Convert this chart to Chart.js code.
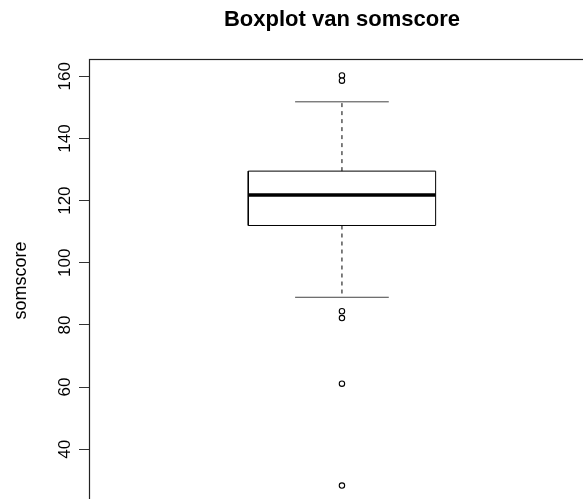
<!DOCTYPE html>
<html>
<head>
<meta charset="utf-8">
<title>Boxplot van somscore</title>
<script src="https://cdn.jsdelivr.net/npm/chart.js@4.4.0/dist/chart.umd.min.js"></script>
<style>
  html, body { margin: 0; padding: 0; background: #fff; overflow: hidden; }
  #wrap { width: 600px; height: 510px; }
  canvas { display: block; }
</style>
</head>
<body>
<div id="wrap"><canvas id="boxChart" width="600" height="510"></canvas></div>
<script>
// boxplot statistics
var categories = ['somscore'];
var whiskerLow = [88.9];
var q1 = [112.0];
var median = [121.8];
var q3 = [129.5];
var whiskerHigh = [151.8];
var outliers = [160.3, 158.6, 84.4, 82.2, 61.1, 28.3];
var yTicks = [40, 60, 80, 100, 120, 140, 160];

var BOX_HALF = 0.2;   // half box width, x units
var CAP_HALF = 0.1;   // half staple width

document.addEventListener('DOMContentLoaded', function() {
  var i = 0;
  var cx = i + 1;

  // y range like R: data range stretched 4% on both sides
  var allVals = outliers.concat([whiskerLow[i], whiskerHigh[i]]);
  var lo = Math.min.apply(null, allVals);
  var hi = Math.max.apply(null, allVals);
  var pad = (hi - lo) * 0.04;

  function seg(x1, y1, x2, y2) {
    return [{ x: x1, y: y1 }, { x: x2, y: y2 }];
  }

  var lineBase = { showLine: true, pointRadius: 0, fill: false, borderColor: '#000', borderWidth: 1 };

  var datasets = [
    Object.assign({}, lineBase, {
      label: 'median',
      data: seg(cx - BOX_HALF, median[i], cx + BOX_HALF, median[i]),
      borderWidth: 3.5
    }),
    Object.assign({}, lineBase, {
      label: 'box',
      data: [
        { x: cx - BOX_HALF, y: q1[i] }, { x: cx + BOX_HALF, y: q1[i] },
        { x: cx + BOX_HALF, y: q3[i] }, { x: cx - BOX_HALF, y: q3[i] },
        { x: cx - BOX_HALF, y: q1[i] }
      ],
      fill: true,
      backgroundColor: '#fff'
    }),
    Object.assign({}, lineBase, {
      label: 'upper whisker',
      data: seg(cx, q3[i], cx, whiskerHigh[i]),
      borderDash: [4, 4]
    }),
    Object.assign({}, lineBase, {
      label: 'lower whisker',
      data: seg(cx, q1[i], cx, whiskerLow[i]),
      borderDash: [4, 4]
    }),
    Object.assign({}, lineBase, {
      label: 'upper staple',
      data: seg(cx - CAP_HALF, whiskerHigh[i], cx + CAP_HALF, whiskerHigh[i]),
      borderColor: '#444'
    }),
    Object.assign({}, lineBase, {
      label: 'lower staple',
      data: seg(cx - CAP_HALF, whiskerLow[i], cx + CAP_HALF, whiskerLow[i]),
      borderColor: '#444'
    }),
    {
      label: 'outliers',
      data: outliers.map(function(v) { return { x: cx, y: v }; }),
      showLine: false,
      pointRadius: 2.7,
      pointBorderWidth: 1.1,
      pointBorderColor: '#000',
      pointBackgroundColor: '#fff'
    }
  ];

  // frame around the plot and y tick labels written along the axis
  var framePlugin = {
    id: 'frame',
    afterDraw: function(chart) {
      var ctx = chart.ctx;
      var a = chart.chartArea;
      var y = chart.scales.y;
      ctx.save();
      ctx.strokeStyle = '#222';
      ctx.lineWidth = 1.2;
      ctx.strokeRect(a.left + 0.5, a.top + 0.5, a.right - a.left, a.bottom - a.top);

      ctx.fillStyle = '#000';
      ctx.font = '17px "Liberation Sans", Arial, sans-serif';
      ctx.textAlign = 'center';
      ctx.textBaseline = 'alphabetic';
      yTicks.forEach(function(t) {
        var py = y.getPixelForValue(t);
        ctx.save();
        ctx.translate(70, py);
        ctx.rotate(-Math.PI / 2);
        ctx.fillText(String(t), 0, 0);
        ctx.restore();
      });
      ctx.restore();
    }
  };

  var ctx = document.getElementById('boxChart').getContext('2d');
  var boxChart = new Chart(ctx, {
    type: 'scatter',
    data: { datasets: datasets },
    plugins: [framePlugin],
    options: {
      responsive: false,
      animation: false,
      layout: { padding: { left: 0, top: 0, right: 5, bottom: 8 } },
      plugins: {
        legend: { display: false },
        tooltip: { enabled: false },
        title: {
          display: true,
          text: 'Boxplot van somscore',
          fullSize: false,
          color: '#000',
          font: { family: '"Liberation Sans", Arial, sans-serif', size: 22, weight: 'bold', lineHeight: 1.2 },
          padding: { top: 7, bottom: 25.6 }
        }
      },
      scales: {
        x: {
          type: 'linear',
          min: 0.46,
          max: 1.54,
          display: false
        },
        y: {
          type: 'linear',
          min: lo - pad,
          max: hi + pad,
          afterBuildTicks: function(scale) {
            scale.ticks = yTicks.map(function(v) { return { value: v }; });
          },
          afterFit: function(scale) {
            scale.width = 89;
          },
          border: { display: true, color: '#222', width: 1 },
          grid: {
            drawOnChartArea: false,
            drawTicks: true,
            tickLength: 10,
            color: '#333'
          },
          ticks: { display: false },
          title: {
            display: true,
            text: categories[i],
            color: '#000',
            font: { family: '"Liberation Sans", Arial, sans-serif', size: 18, lineHeight: 1.2 },
            padding: { top: 10, bottom: 0 }
          }
        }
      }
    }
  });
});
</script>
</body>
</html>
